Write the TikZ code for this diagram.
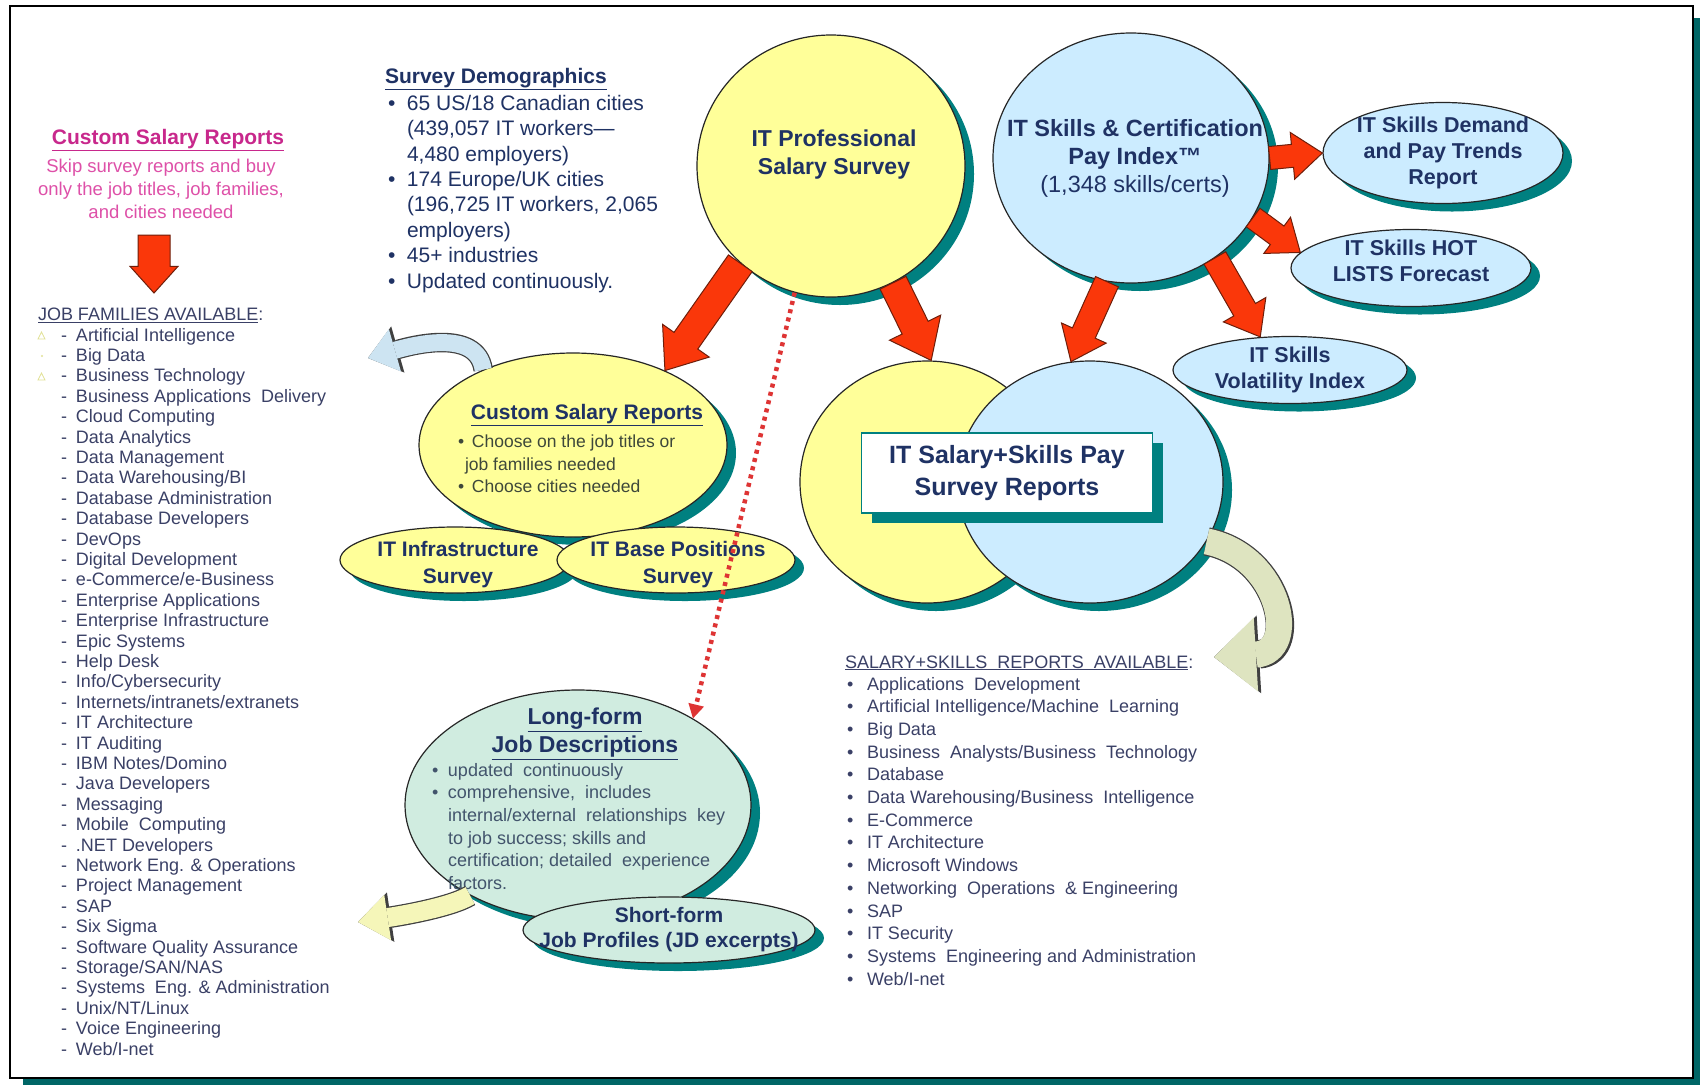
\documentclass[tikz,border=0pt]{standalone}
\usepackage{fontspec}
\setmainfont{Liberation Sans}
\usetikzlibrary{shapes.geometric,shapes.arrows,shadows,arrows.meta,calc}

\definecolor{navy}{RGB}{31,50,100}
\definecolor{listgray}{RGB}{58,64,102}
\definecolor{olivetxt}{RGB}{62,72,58}
\definecolor{slatetxt}{RGB}{66,84,108}
\definecolor{magtitle}{RGB}{200,40,140}
\definecolor{magtext}{RGB}{222,80,168}
\definecolor{ylw}{RGB}{255,255,153}
\definecolor{skyb}{RGB}{204,236,255}
\definecolor{mint}{RGB}{208,236,224}
\definecolor{shteal}{RGB}{0,128,128}
\definecolor{framet}{RGB}{0,102,102}
\definecolor{redarr}{RGB}{250,55,10}
\definecolor{redline}{RGB}{110,30,10}
\definecolor{dotred}{RGB}{222,52,52}
\definecolor{curvblue}{RGB}{205,228,242}
\definecolor{curvgray}{RGB}{222,228,192}
\definecolor{curvyel}{RGB}{245,246,185}
\definecolor{faintyel}{RGB}{225,225,150}

\newcommand{\fsz}[2]{\fontsize{#1}{#2}\selectfont}
\newcommand{\jf}[1]{\makebox[15pt][l]{-}#1}
\newcommand{\bul}[2][19pt]{\makebox[#1][l]{\textbullet}#2}

% block arrow from one point to another
\newcommand{\fatarrow}[3][]{%
  \path let \p1=(#2), \p2=(#3),
    \n1={veclen(\x2-\x1,\y2-\y1)}, \n2={atan2(\y2-\y1,\x2-\x1)} in
    node [fatarrow, #1, minimum height=\n1, rotate=\n2, anchor=tail] at (\p1) {};}

\begin{document}
\begin{tikzpicture}[x=1pt, y=-1pt]

    \tikzset{bubble/.style={%
      ellipse,%
      draw=black!85,%
      line width=1.2pt,%
      inner sep=0pt,%
      drop shadow={shadow xshift=9pt, shadow yshift=-8pt, fill=shteal, opacity=1}}%
    };

    \tikzset{yelbubble/.style={bubble, fill=ylw}};
    \tikzset{bluebubble/.style={bubble, fill=skyb}};
    \tikzset{bubbletext/.style={inner sep=0pt, text=navy, font=\bfseries\fsz{21.5}{26}, align=center}};
    \tikzset{plain/.style={inner sep=0pt, outer sep=0pt}};

    \tikzset{fatarrow/.style={%
      single arrow,%
      draw=redline,%
      fill=redarr,%
      line width=1pt,%
      inner xsep=0pt,%
      inner ysep=14pt,%
      outer sep=0pt,%
      single arrow head extend=14pt,%
      single arrow tip angle=76,%
      single arrow head indent=0pt}%
    };

    \tikzset{dotarrow/.style={draw=dotred, line width=4.5pt, dash pattern=on 4pt off 4.5pt,
      -{Triangle[width=16pt, length=14pt, line width=0pt]}}};

    \useasboundingbox (0,0) rectangle (1700,1085);

    %%%%%%%%%
    % frame %
    %%%%%%%%%
    \fill [framet] (23,18) rectangle (1700,1085);
    \draw [fill=white, line width=2pt] (10,6) rectangle (1693,1078);

    %%%%%%%%%%%%%%%%%%%%%%%%%%%%%
    % custom reports, left side %
    %%%%%%%%%%%%%%%%%%%%%%%%%%%%%
    \path (168, 144.6) node [plain, anchor=base, text=magtitle, font=\bfseries\fsz{21}{25}] (cstitle)
      {\underline{Custom Salary Reports}};

    \path (161, 159) node [plain, anchor=north, text=magtext, align=center, font=\fsz{18.5}{23}] (cspara)
      {Skip survey reports and buy\\only the job titles, job families,\\and cities needed};

    \coordinate (dntop) at (154,235);
    \coordinate (dnbot) at (154,293);

    \path (38, 320.4) node [plain, anchor=base west, text=listgray, font=\fsz{18}{20.4}] (jfhead)
      {\underline{JOB FAMILIES AVAILABLE}:};

    \path (61, 328) node [plain, anchor=north west, text=listgray, align=left, font=\fsz{18}{20.4}] (jflist)
      {\jf{Artificial Intelligence}\\ \jf{Big Data}\\ \jf{Business Technology}\\
       \jf{Business Applications\ \ Delivery}\\ \jf{Cloud Computing}\\ \jf{Data Analytics}\\
       \jf{Data Management}\\ \jf{Data Warehousing/BI}\\ \jf{Database Administration}\\
       \jf{Database Developers}\\ \jf{DevOps}\\ \jf{Digital Development}\\
       \jf{e-Commerce/e-Business}\\ \jf{Enterprise Applications}\\ \jf{Enterprise Infrastructure}\\
       \jf{Epic Systems}\\ \jf{Help Desk}\\ \jf{Info/Cybersecurity}\\
       \jf{Internets/intranets/extranets}\\ \jf{IT Architecture}\\ \jf{IT Auditing}\\
       \jf{IBM Notes/Domino}\\ \jf{Java Developers}\\ \jf{Messaging}\\
       \jf{Mobile\ \ Computing}\\ \jf{.NET Developers}\\ \jf{Network Eng. \& Operations}\\
       \jf{Project Management}\\ \jf{SAP}\\ \jf{Six Sigma}\\
       \jf{Software Quality Assurance}\\ \jf{Storage/SAN/NAS}\\ \jf{Systems\ \ Eng. \& Administration}\\
       \jf{Unix/NT/Linux}\\ \jf{Voice Engineering}\\ \jf{Web/I-net}};

    \draw [faintyel, line width=0.8pt] (38,339) -- (41.5,332) -- (45,339) -- cycle;
    \fill [faintyel] (42,356) circle (1.2);
    \draw [faintyel, line width=0.8pt] (38,380) -- (41.5,373) -- (45,380) -- cycle;

    %%%%%%%%%%%%%%%%%%%%%%%
    % survey demographics %
    %%%%%%%%%%%%%%%%%%%%%%%
    \path (385, 83.5) node [plain, anchor=base west, text=navy, font=\bfseries\fsz{21}{25.4}] (demohead)
      {\underline{Survey Demographics}};

    \path (388, 95) node [plain, anchor=north west, text=navy, align=left, font=\fsz{21}{25.4}] (demolist)
      {\bul{65 US/18 Canadian cities}\\ \hspace*{19pt}(439,057 IT workers—\\ \hspace*{19pt}4,480 employers)\\
       \bul{174 Europe/UK cities}\\ \hspace*{19pt}(196,725 IT workers, 2,065\\ \hspace*{19pt}employers)\\
       \bul{45+ industries}\\ \bul{Updated continuously.}};

    %%%%%%%%%%%%%%%%%
    % main surveys  %
    %%%%%%%%%%%%%%%%%
    \path (831, 166) node [yelbubble, minimum width=268, minimum height=262] (ipss) {};
    \path (834, 129.4) node [plain, anchor=north, bubbletext, font=\bfseries\fsz{23}{28}] (ipsstxt)
      {IT Professional\\Salary Survey};

    \path (1131, 158) node [bluebubble, minimum width=276, minimum height=250] (its) {};
    \path (1135, 119.3) node [plain, anchor=north, bubbletext, font=\bfseries\fsz{23.5}{28}] (itstxt)
      {IT Skills \& Certification\\Pay Index™\\\mdseries (1,348 skills/certs)};

    \path (1443, 153) node [bluebubble, minimum width=240, minimum height=101] (sdp) {};
    \path (sdp) node [bubbletext] (sdptxt) {IT Skills Demand\\and Pay Trends\\Report};

    \path (1411, 268) node [bluebubble, minimum width=240, minimum height=77] (shl) {};
    \path (1411, 261) node [bubbletext] (shltxt) {IT Skills HOT\\LISTS Forecast};

    \path (1290, 370) node [bluebubble, minimum width=234, minimum height=67] (siv) {};
    \path (siv) node [bubbletext] (sivtxt) {IT Skills\\Volatility Index};

    %%%%%%%%%%%%%%%%%%%%%%%%%%%%
    % salary + skills reports  %
    %%%%%%%%%%%%%%%%%%%%%%%%%%%%
    \path (927, 482) node [yelbubble, minimum width=254, minimum height=242] (ssy) {};
    \path (1090, 482) node [bluebubble, minimum width=266, minimum height=242] (ssb) {};

    \path (1007, 473) node [draw=shteal, fill=white, line width=1.5pt, minimum width=291, minimum height=80,
      drop shadow={shadow xshift=10pt, shadow yshift=-10pt, fill=shteal, opacity=1},
      text=navy, align=center, font=\bfseries\fsz{25}{32}] (ssbox)
      {IT Salary+Skills Pay\\Survey Reports};

    \path (845, 668) node [plain, anchor=base west, text=listgray, font=\fsz{18}{22.7}] (sshead)
      {\underline{SALARY+SKILLS\ \ REPORTS\ \ AVAILABLE}:};

    \path (847, 677) node [plain, anchor=north west, text=listgray, align=left, font=\fsz{18}{22.7}] (sslist)
      {\bul[20pt]{Applications\ \ Development}\\ \bul[20pt]{Artificial Intelligence/Machine\ \ Learning}\\
       \bul[20pt]{Big Data}\\ \bul[20pt]{Business\ \ Analysts/Business\ \ Technology}\\
       \bul[20pt]{Database}\\ \bul[20pt]{Data Warehousing/Business\ \ Intelligence}\\
       \bul[20pt]{E-Commerce}\\ \bul[20pt]{IT Architecture}\\ \bul[20pt]{Microsoft Windows}\\
       \bul[20pt]{Networking\ \ Operations\ \ \& Engineering}\\ \bul[20pt]{SAP}\\
       \bul[20pt]{IT Security}\\ \bul[20pt]{Systems\ \ Engineering and Administration}\\
       \bul[20pt]{Web/I-net}};

    %%%%%%%%%%%%%%%%%%%%%%%%%%
    % custom salary reports  %
    %%%%%%%%%%%%%%%%%%%%%%%%%%
    \path (573, 445) node [yelbubble, minimum width=308, minimum height=184] (csr) {};
    \path (587, 419.5) node [plain, anchor=base, text=navy, font=\bfseries\fsz{21}{25}] (csrtitle)
      {\underline{Custom Salary Reports}};
    \path (458, 435) node [plain, anchor=north west, text=olivetxt, align=left, font=\fsz{17.5}{22.5}] (csrtxt)
      {\bul[14pt]{Choose on the job titles or}\\ \hspace*{7pt}job families needed\\ \bul[14pt]{Choose cities needed}};

    \path (455, 560) node [yelbubble, minimum width=230, minimum height=66] (infra) {};
    \path (458, 565) node [bubbletext, font=\bfseries\fsz{21}{27}] (infratxt) {IT Infrastructure\\Survey};
    \path (676, 560) node [yelbubble, minimum width=238, minimum height=66] (base) {};
    \path (678, 565) node [bubbletext, font=\bfseries\fsz{21}{27}] (basetxt) {IT Base Positions\\Survey};

    %%%%%%%%%%%%%%%%%%%%%%%%
    % job descriptions     %
    %%%%%%%%%%%%%%%%%%%%%%%%
    \path (578, 805) node [bubble, fill=mint, minimum width=346, minimum height=230] (lf) {};
    \path (585, 708) node [plain, anchor=north, text=navy, align=center, font=\bfseries\fsz{23}{28}] (lftitle)
      {\underline{Long-form}\\\underline{Job Descriptions}};
    \path (432, 763) node [plain, anchor=north west, text=slatetxt, align=left, font=\fsz{18}{22.7}] (lftxt)
      {\bul[16pt]{updated\ \ continuously}\\ \bul[16pt]{comprehensive,\ \ includes}\\
       \hspace*{16pt}internal/external\ \ relationships\ \ key\\ \hspace*{16pt}to job success; skills and\\
       \hspace*{16pt}certification; detailed\ \ experience\\ \hspace*{16pt}factors.};

    \path (669, 930) node [bubble, fill=mint, minimum width=292, minimum height=66] (sf) {};
    \path (669, 930) node [bubbletext, font=\bfseries\fsz{21}{25}] (sftxt) {Short-form\\Job Profiles (JD excerpts)};

    %%%%%%%%%%%%%%
    % connectors %
    %%%%%%%%%%%%%%
    \fatarrow[inner ysep=15.5pt, single arrow head extend=8pt, single arrow tip angle=84]{dntop}{dnbot}

    \fatarrow{ipss.-133}{csr.39}
    \fatarrow{ipss.-62}{ssy.88}

    \fatarrow[inner ysep=12pt, single arrow head extend=12pt]{its.-101}{ssb.99}
    \fatarrow[inner ysep=12pt, single arrow head extend=12pt]{its.-50}{siv.132}
    \fatarrow[inner ysep=11pt, single arrow head extend=11pt]{its.-26}{shl.172}
    \fatarrow[inner ysep=11pt, single arrow head extend=12pt]{its.0}{sdp.180}

    \draw [dotarrow] (ipss.-106) -- (lf.37);

    \coordinate (jfcurl) at (368,358);
    \coordinate (sscurl) at (1214,657);
    \coordinate (lfcurl) at (358,922);

    \draw [draw=curvblue, line width=17pt, -{Triangle[width=44pt, length=28pt, line width=0pt]},
      preaction={draw=black!75, line width=19.5pt, -{Triangle[width=48pt, length=31pt, line width=0pt]}}]
      (csr.140) .. controls +(-6,-42) and +(42,-12) .. (jfcurl);

    \draw [draw=curvgray, line width=26pt, -{Triangle[width=74pt, length=42pt, line width=0pt]},
      preaction={draw=black!75, line width=28.5pt, -{Triangle[width=78pt, length=45pt, line width=0pt]}}]
      (ssb.-27) .. controls +(75,15) and +(85,-5) .. (sscurl);

    \draw [draw=curvyel, line width=19pt, -{Triangle[width=46pt, length=30pt, line width=0pt]},
      preaction={draw=black!75, line width=21.5pt, -{Triangle[width=50pt, length=33pt, line width=0pt]}}]
      (lf.-140) .. controls +(-20,12) and +(40,-6) .. (lfcurl);

  \end{tikzpicture}
\end{document}
